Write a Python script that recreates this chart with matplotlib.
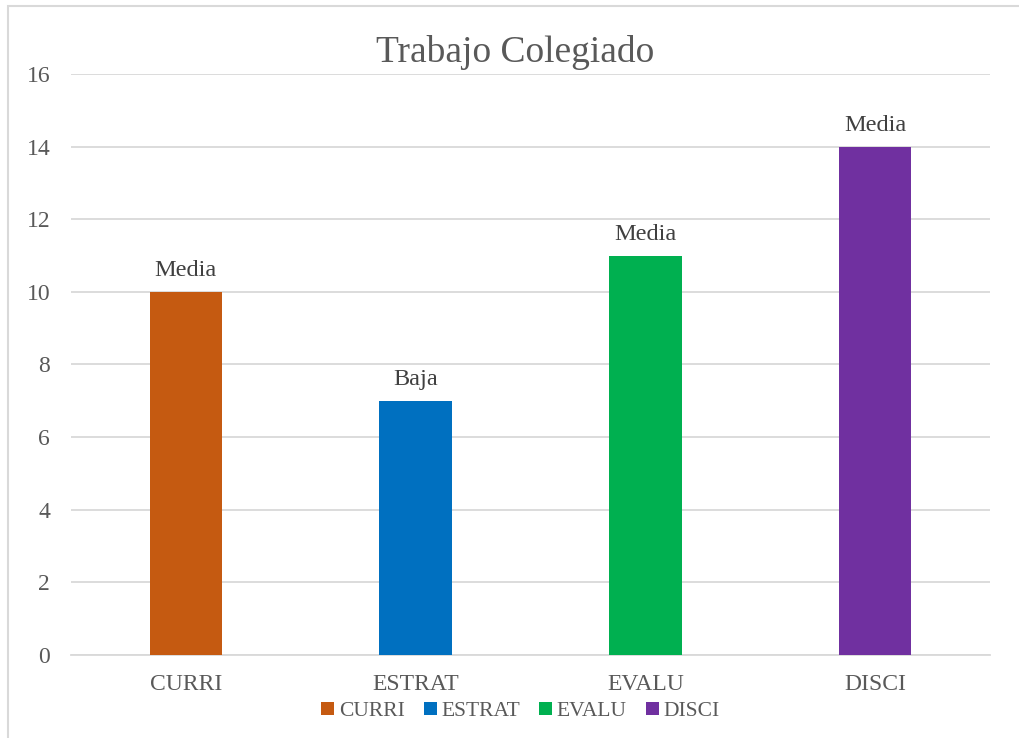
import matplotlib.pyplot as plt
from matplotlib.patches import Rectangle

# datos del grafico
categorias = ['CURRI', 'ESTRAT', 'EVALU', 'DISCI']
valores = [10, 7, 11, 14]
etiquetas = ['Media', 'Baja', 'Media', 'Media']
colores = ['#C55A11', '#0070C0', '#00B050', '#7030A0']

plt.rcParams['font.family'] = ['Liberation Serif', 'DejaVu Serif']
gris = '#595959'

fig = plt.figure(figsize=(10.19, 7.38), dpi=100)
ax = fig.add_axes([0.0697, 0.1125, 0.9018, 0.7872])

x = range(len(categorias))
barras = ax.bar(x, valores, width=0.315, color=colores, zorder=3)

# etiquetas de datos
for i, v in enumerate(valores):
    ax.text(i, v + 0.3, etiquetas[i], ha='center', va='bottom', fontsize=17.5, color='#404040')

ax.set_xlim(-0.5, len(categorias) - 0.5)
ax.set_ylim(0, 16)
ax.set_yticks(range(0, 17, 2))
ax.set_xticks(list(x))
ax.set_xticklabels(categorias)
ax.tick_params(axis='both', length=0, labelsize=17, colors=gris)
ax.tick_params(axis='y', pad=15)
ax.tick_params(axis='x', pad=14)
ax.grid(axis='y', color='#D9D9D9', linewidth=1.3, zorder=0)
for s in ['top', 'right', 'left']:
    ax.spines[s].set_visible(False)
ax.spines['bottom'].set_color('#D9D9D9')
ax.spines['bottom'].set_linewidth(1.3)

fig.text(0.506, 0.929, 'Trabajo Colegiado', ha='center', va='center', fontsize=27, color=gris)

# leyenda abajo
ax.legend(barras, categorias, loc='upper center', bbox_to_anchor=(0.489, -0.047),
          ncol=4, frameon=False, fontsize=15.5, handlelength=0.6, handleheight=0.6,
          handletextpad=0.2, columnspacing=0.9, labelcolor=gris)

# marco exterior (solo se ven arriba e izquierda)
fig.patches.append(Rectangle((0.008, -0.1), 1.2, 1.092, transform=fig.transFigure,
                             fill=False, edgecolor='#D9D9D9', linewidth=1.5))

plt.savefig('out.png')
plt.close()
